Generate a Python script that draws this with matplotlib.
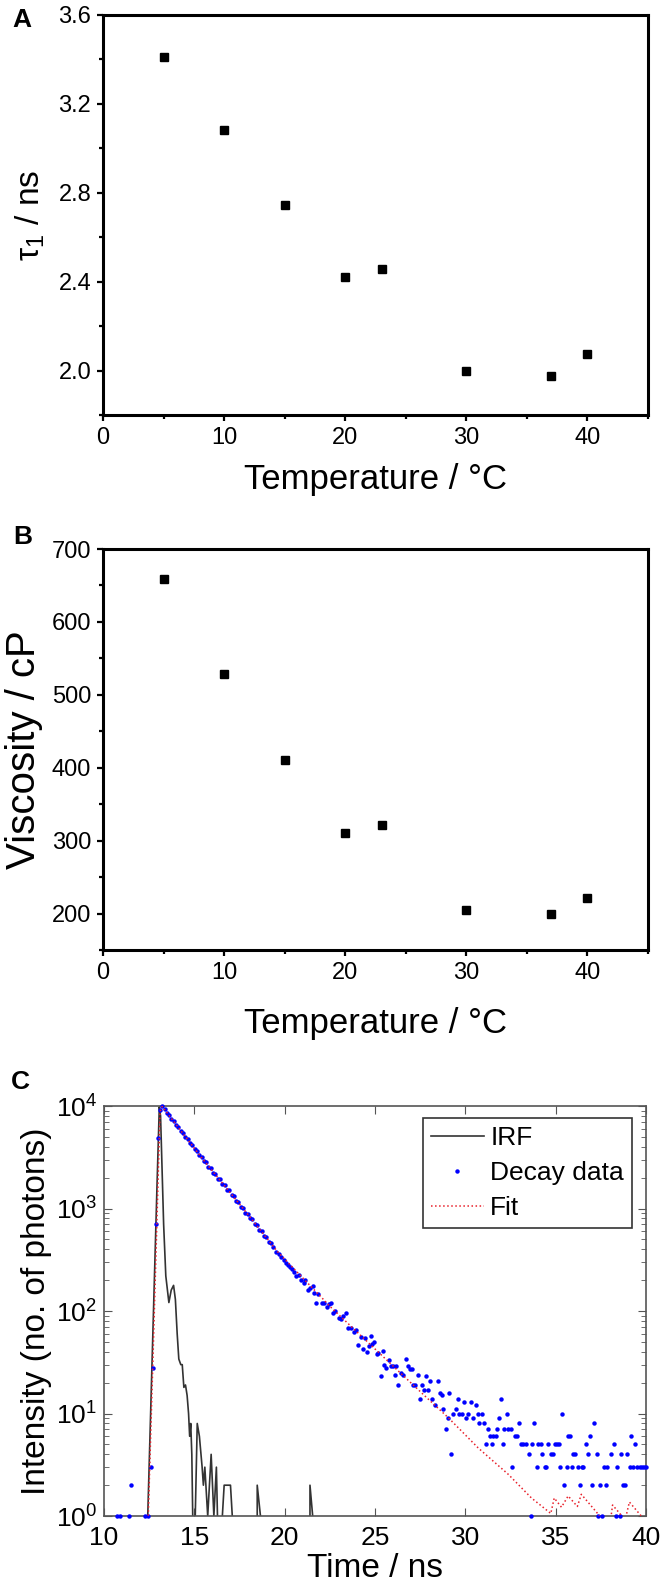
import matplotlib
matplotlib.use("Agg")
import matplotlib.pyplot as plt
from matplotlib.ticker import MultipleLocator, LogLocator, NullLocator, NullFormatter

plt.rcParams['font.family'] = ['Liberation Sans', 'DejaVu Sans']
plt.rcParams['mathtext.fontset'] = 'custom'
plt.rcParams['mathtext.rm'] = 'Liberation Sans'
plt.rcParams['mathtext.it'] = 'Liberation Sans:italic'
plt.rcParams['mathtext.bf'] = 'Liberation Sans:bold'

# Panels A and B: lifetime and viscosity against temperature
temps = [5, 10, 15, 20, 23, 30, 37, 40]
tau1 = [3.41, 3.08, 2.745, 2.42, 2.455, 2.00, 1.975, 2.075]
viscosity = [659, 529, 411, 311, 322, 205, 200, 221]

# Panel C: instrument response function (0 = no counts)
irf_t = [10.00, 12.35, 12.42, 12.68, 12.93, 13.06, 13.13, 13.30, 13.42, 13.59,
         13.72, 13.85, 13.95, 14.05, 14.14, 14.25, 14.33, 14.42, 14.51, 14.60,
         14.68, 14.74, 14.80, 14.86, 14.91, 14.95, 15.05, 15.16, 15.28, 15.43,
         15.50, 15.58, 15.74, 15.93, 16.08, 16.22, 16.28, 16.30, 16.50, 16.55,
         16.65, 17.00, 17.10, 17.12, 18.40, 18.48, 18.66, 18.68, 21.35, 21.40,
         21.55, 21.57, 40.00]
irf_n = [0, 0, 1, 43, 1600, 9800, 8000, 700, 220, 121,
         160, 178, 130, 60, 34, 30, 30, 18, 19, 15,
         10, 6, 8, 4, 1, 0, 1, 8, 6, 3,
         2, 3, 1, 4, 1, 3, 1, 0, 0, 1,
         2, 2, 1, 0, 0, 2, 1, 0, 0, 2,
         1, 0, 0]

# Panel C: decay data (photon counts per channel)
decay_t = [10.73, 10.86, 11.41, 11.52, 12.26, 12.45, 12.60, 12.72, 12.85, 12.97, 13.10,
           13.22, 13.35, 13.48, 13.60, 13.73, 13.86, 13.99, 14.12, 14.24, 14.37,
           14.50, 14.63, 14.76, 14.88, 15.01, 15.14, 15.27, 15.40, 15.52, 15.65,
           15.78, 15.91, 16.04, 16.16, 16.29, 16.42, 16.55, 16.68, 16.80, 16.93,
           17.06, 17.19, 17.32, 17.44, 17.57, 17.70, 17.83, 17.96, 18.08, 18.21,
           18.34, 18.47, 18.60, 18.72, 18.85, 18.98, 19.11, 19.24, 19.36,
           19.54, 19.66, 19.81, 19.98, 20.09, 20.20, 20.31, 20.40, 20.49, 20.64,
           20.77, 20.90, 21.05, 21.14, 21.29, 21.41, 21.56, 21.65, 21.75, 21.87,
           22.06, 22.19, 22.33, 22.43, 22.56, 22.67, 22.80, 22.98, 23.13, 23.22,
           23.38, 23.53, 23.66, 23.81, 23.96, 24.08, 24.21, 24.32, 24.45, 24.54,
           24.69, 24.77, 24.86, 24.95, 25.10, 25.19, 25.32, 25.43, 25.52, 25.60,
           25.75, 25.89, 25.97, 26.08, 26.17, 26.30, 26.45, 26.57, 26.72, 26.85,
           26.94, 27.03, 27.13, 27.22, 27.37, 27.50, 27.62, 27.73, 27.81, 27.96,
           28.05, 28.18, 28.32, 28.47, 28.60, 28.69, 28.78, 28.91, 29.02, 29.12,
           29.21, 29.34, 29.47, 29.58, 29.65, 29.80, 29.93, 30.02, 30.17, 30.31,
           30.44, 30.57, 30.68, 30.77, 30.90, 31.05, 31.12, 31.23, 31.36, 31.45,
           31.55, 31.68, 31.77, 31.86, 31.97, 32.10, 32.15, 32.28, 32.38, 32.52,
           32.61, 32.74, 32.84, 32.96, 33.08, 33.20, 33.33, 33.52, 33.63, 33.70,
           33.81, 33.94, 34.03, 34.18, 34.27, 34.40, 34.49, 34.59, 34.73, 34.83,
           34.95, 35.05, 35.17, 35.23, 35.36, 35.47, 35.60, 35.69, 35.78, 35.88,
           35.97, 36.06, 36.21, 36.33, 36.43, 36.52, 36.67, 36.80, 36.89, 37.02,
           37.13, 37.26, 37.35, 37.44, 37.57, 37.68, 37.81, 37.86, 38.08, 38.23,
           38.32, 38.42, 38.54, 38.64, 38.73, 38.86, 38.97, 39.10, 39.19, 39.28,
           39.41, 39.52, 39.65, 39.78, 39.89, 40.00]
decay_n = [1, 1, 1, 2, 1, 1, 3, 28, 710, 4900, 9200,
           9900, 9300, 8550, 8200, 7500, 7150, 6550, 6250, 5700, 5450,
           4980, 4780, 4350, 4180, 3800, 3650, 3300, 3180, 2900, 2820,
           2560, 2470, 2230, 2190, 1960, 1930, 1730, 1700, 1520, 1500,
           1340, 1320, 1180, 1160, 1040, 1020, 910, 890, 800, 790,
           700, 690, 615, 605, 540, 530, 475, 465, 420,
           375, 359, 338, 314, 291, 280, 270, 256, 238, 221,
           226, 200, 186, 203, 160, 167, 176, 150, 121, 146,
           121, 121, 110, 117, 119, 95, 100, 86, 83, 90,
           95, 69, 68, 62, 65, 47, 56, 43, 54, 40,
           46, 57, 48, 50, 38, 39, 23, 41, 30, 28,
           33, 29, 29, 24, 29, 19, 25, 24, 34, 29,
           27, 27, 19, 19, 24, 14, 19, 17, 23, 17,
           21, 14, 12, 21, 16, 15, 11, 7, 9, 16,
           4, 10, 11, 14, 10, 10, 13, 9, 10, 13,
           9, 12, 10, 8, 10, 8, 5, 7, 6, 5,
           6, 6, 7, 9, 14, 5, 7, 10, 7, 7,
           3, 6, 6, 8, 5, 5, 5, 4, 1, 5,
           8, 3, 5, 5, 4, 3, 3, 5, 4, 4,
           5, 5, 5, 3, 10, 2, 3, 6, 6, 3,
           4, 4, 3, 2, 3, 3, 5, 4, 6, 2,
           8, 4, 1, 2, 1, 3, 2, 3, 4, 5,
           1, 3, 1, 4, 2, 2, 4, 3, 6, 3,
           5, 3, 3, 3, 3, 3]

# Panel C: fitted decay
fit_t = [12.40, 12.45, 12.70, 12.90, 13.10, 13.22, 14.00, 15.43, 17.70, 19.60,
         22.60, 26.50, 27.86, 29.06, 30.72, 32.38, 33.66, 34.73, 34.92, 35.32,
         35.69, 36.20, 36.42, 37.38, 37.50, 38.05, 38.15, 38.67, 38.78, 38.88,
         39.08, 39.74, 40.00]
fit_n = [0.7, 1.0, 30, 500, 8800, 9900, 6560, 3090, 1000, 380,
         107, 24, 14.3, 9.1, 4.6, 2.55, 1.5, 1.06, 1.5, 1.22,
         1.57, 1.24, 1.63, 1.03, 0.9, 0.95, 1.28, 1.0, 0.9, 0.97,
         1.37, 1.0, 0.9]

fig = plt.figure(figsize=(6.6, 15.85), dpi=100)


def style_temp_axes(ax, pad):
    for s in ax.spines.values():
        s.set_linewidth(2.2)
        s.set_color('black')
    ax.set_xlim(0, 45)
    ax.xaxis.set_major_locator(MultipleLocator(10))
    ax.xaxis.set_minor_locator(MultipleLocator(5))
    ax.tick_params(which='both', direction='out', labelsize=17, width=1.6,
                   top=False, right=False)
    ax.tick_params(which='major', length=4.5, pad=4)
    ax.tick_params(which='minor', length=3)
    ax.set_xlabel('Temperature / °C', fontsize=25, labelpad=pad)


# A
axA = fig.add_axes([0.156, 0.7382, 0.8258, 0.2524])
axA.plot(temps, tau1, linestyle='none', marker='s', markersize=6, color='black')
style_temp_axes(axA, 10)
axA.set_ylim(1.8, 3.6)
axA.yaxis.set_major_locator(MultipleLocator(0.4))
axA.yaxis.set_minor_locator(MultipleLocator(0.2))
axA.yaxis.set_major_formatter(plt.FormatStrFormatter('%.1f'))
axA.set_ylabel('τ$_1$ / ns', fontsize=24, labelpad=8)

# B
axB = fig.add_axes([0.156, 0.4006, 0.8258, 0.2530])
axB.plot(temps, viscosity, linestyle='none', marker='s', markersize=6, color='black')
style_temp_axes(axB, 17)
axB.set_ylim(150, 700)
axB.yaxis.set_major_locator(MultipleLocator(100))
axB.yaxis.set_minor_locator(MultipleLocator(50))
axB.set_ylabel('Viscosity / cP', fontsize=29, labelpad=6)

# C
axC = fig.add_axes([0.1576, 0.0435, 0.8212, 0.2587])
axC.set_yscale('log')
axC.plot(irf_t, irf_n, color='#333333', linewidth=1.2, label='IRF', zorder=2)
axC.plot(decay_t, decay_n, linestyle='none', marker='o', markersize=3.2,
         color='#0000ff', markeredgewidth=0, label='Decay data', zorder=3,
         clip_on=False)
axC.plot(fit_t, fit_n, color='#e8202a', linewidth=1.1, linestyle=':',
         label='Fit', zorder=4)
axC.set_xlim(10, 40)
axC.set_ylim(1, 1e4)
axC.xaxis.set_major_locator(MultipleLocator(5))
axC.xaxis.set_minor_locator(NullLocator())
axC.yaxis.set_major_locator(LogLocator(base=10))
axC.yaxis.set_minor_locator(LogLocator(base=10, subs=range(2, 10)))
axC.yaxis.set_minor_formatter(NullFormatter())
for s in axC.spines.values():
    s.set_linewidth(1.2)
    s.set_color('#555555')
axC.tick_params(which='both', direction='in', top=True, right=True,
                color='#555555', labelsize=19)
axC.tick_params(axis='x', which='major', length=6, pad=7)
axC.tick_params(axis='y', which='major', length=6, pad=5)
axC.tick_params(which='minor', length=3.5)
axC.set_xlabel('Time / ns', fontsize=24, va='center')
axC.xaxis.set_label_coords(0.5, -0.128)
axC.set_ylabel('Intensity (no. of photons)', fontsize=24, labelpad=3)
leg = axC.legend(loc='upper right', bbox_to_anchor=(0.974, 0.971), borderaxespad=0,
                 fancybox=False, edgecolor='#333333', framealpha=1, fontsize=19,
                 handlelength=2.0, handletextpad=0.25, labelspacing=0.42,
                 borderpad=0.3, numpoints=1, markerscale=1.0)
leg.get_frame().set_linewidth(1.2)

# panel letters
fig.text(12 / 660, 1 - 8 / 1585, 'A', fontsize=19, fontweight='bold', va='top')
fig.text(13 / 660, 1 - 525 / 1585, 'B', fontsize=19, fontweight='bold', va='top')
fig.text(11 / 660, 1 - 1070 / 1585, 'C', fontsize=19, fontweight='bold', va='top')

fig.savefig('out.png', dpi=100)
